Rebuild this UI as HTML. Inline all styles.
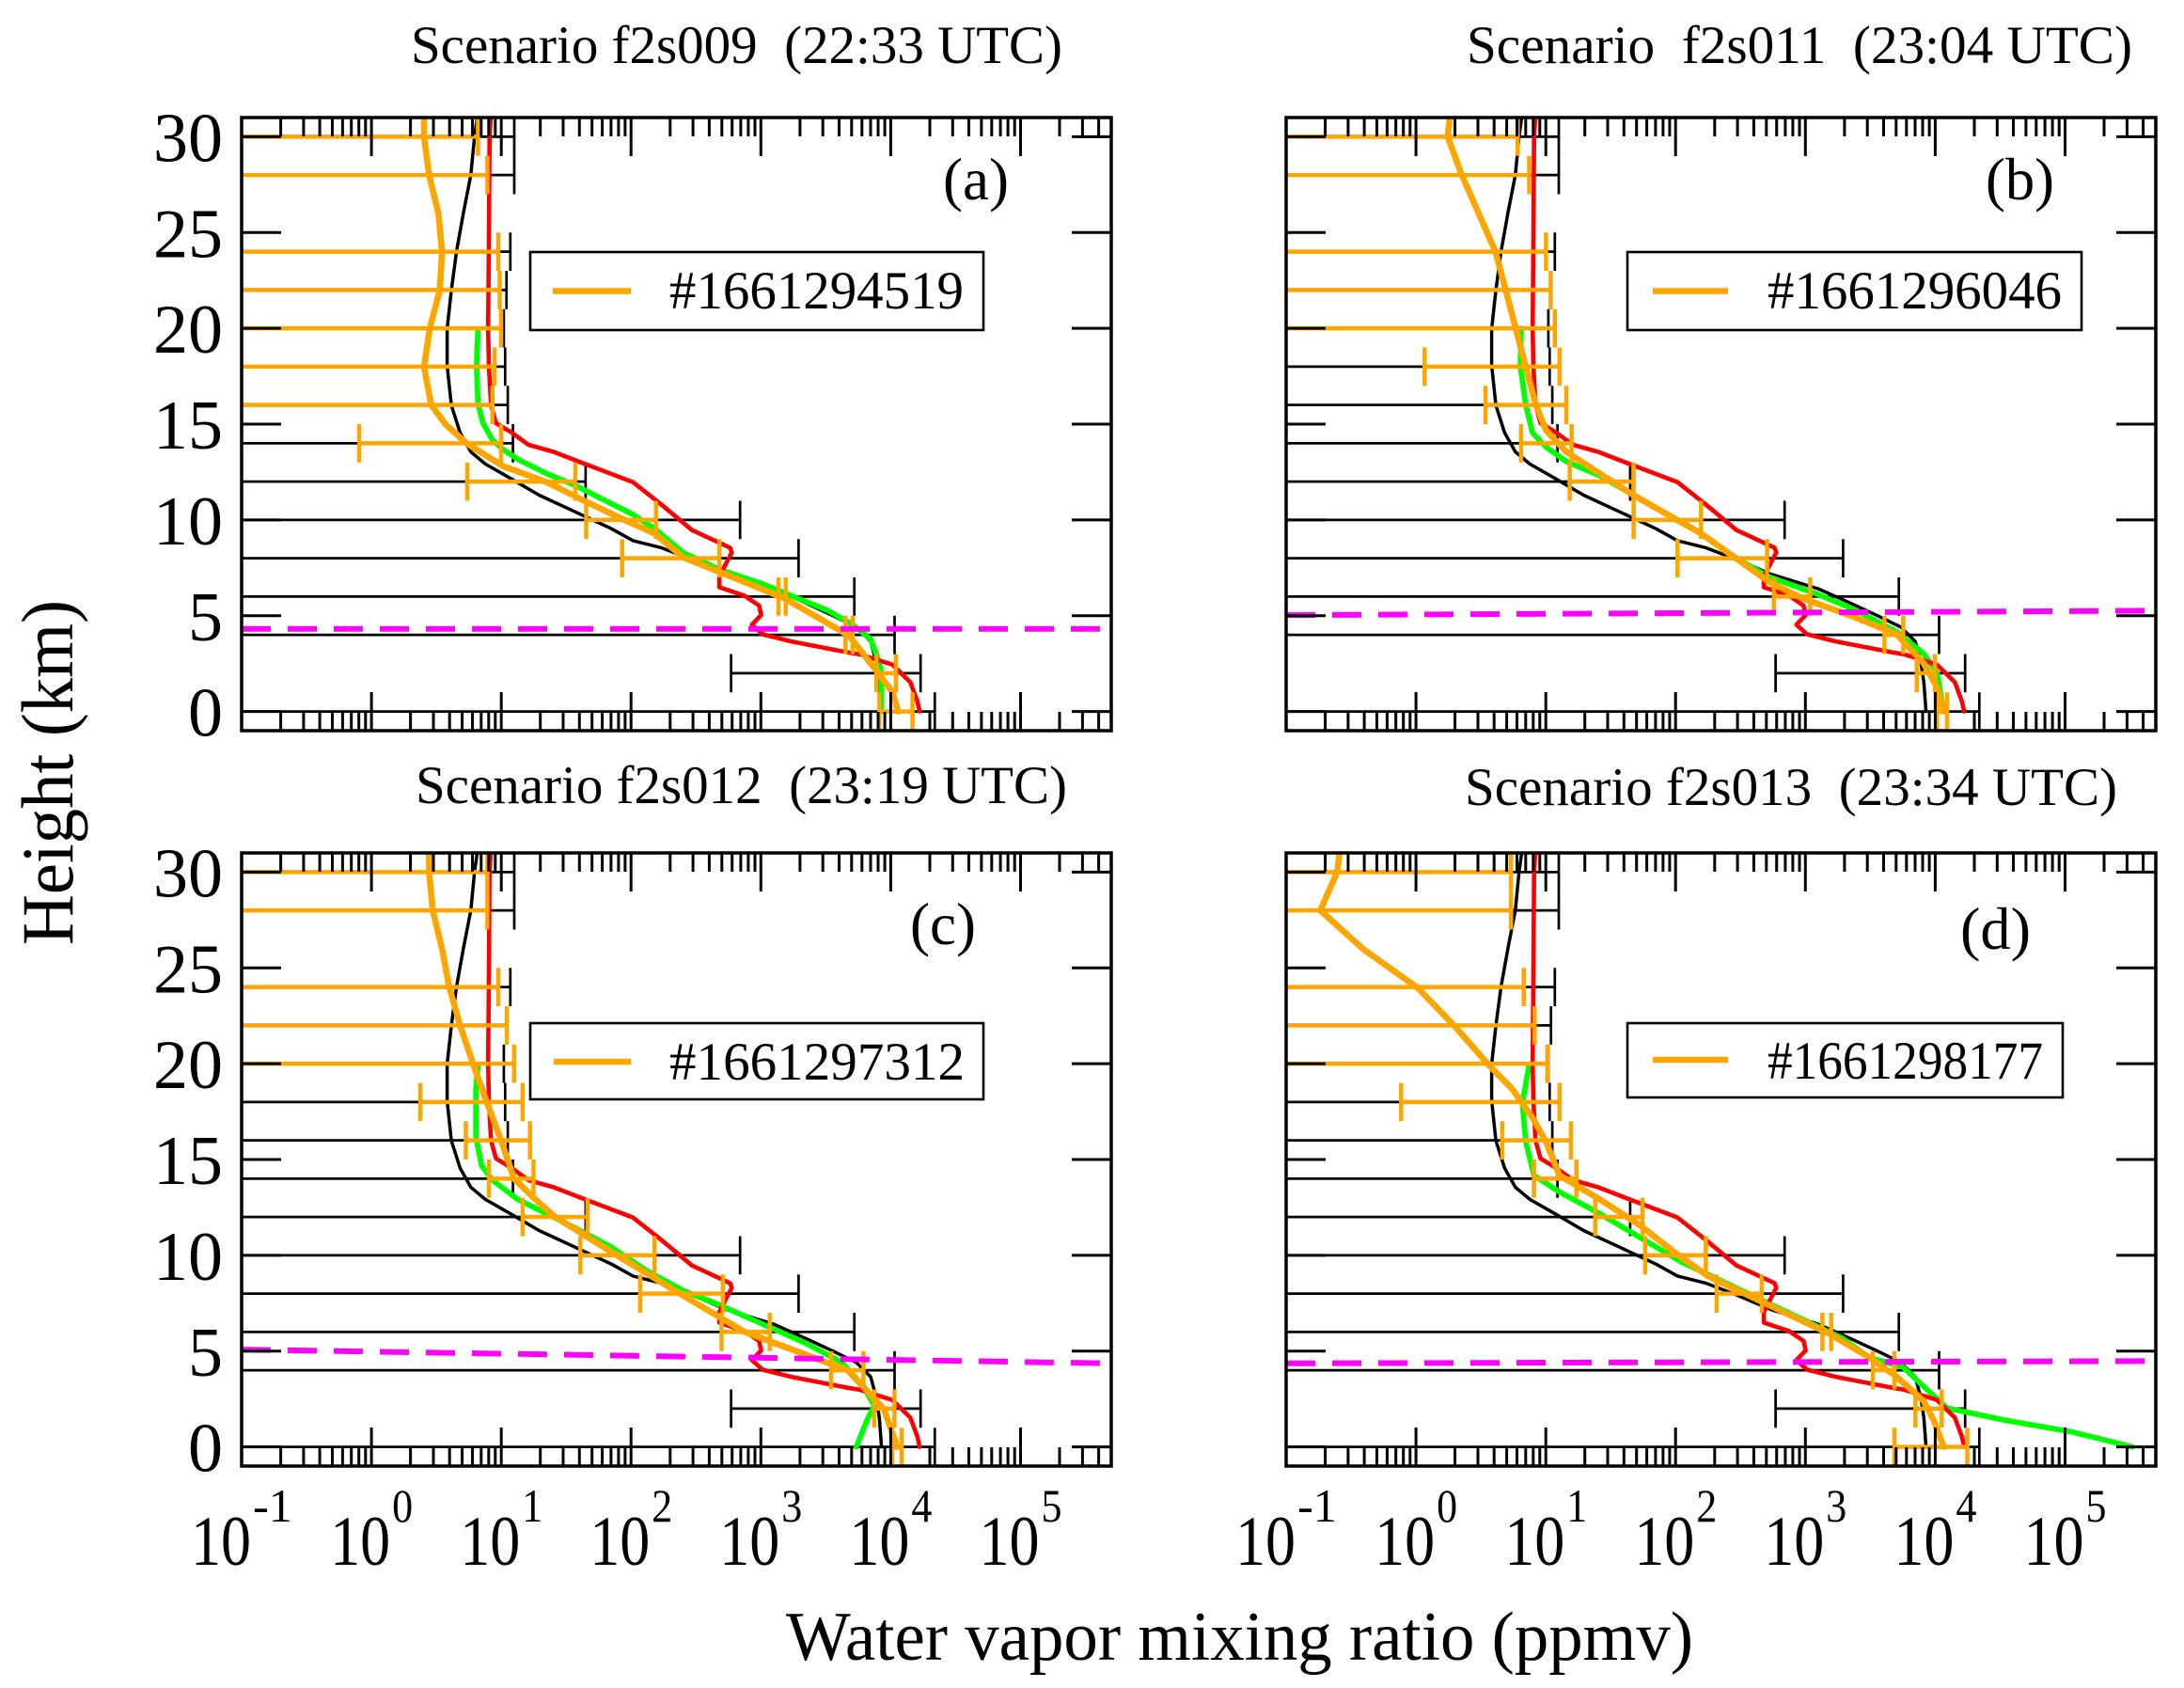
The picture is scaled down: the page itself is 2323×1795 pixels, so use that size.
<!DOCTYPE html>
<html>
<head>
<meta charset="utf-8">
<style>
html,body{margin:0;padding:0;background:#fff;}
svg{display:block;}
text{font-family:"Liberation Serif","Times New Roman",serif;fill:#000;}
</style>
</head>
<body>
<svg id="s" xmlns="http://www.w3.org/2000/svg" width="2323" height="1795" viewBox="0 0 2323 1795">
<rect x="0" y="0" width="2323" height="1795" fill="#fff"/>
<g id="plots"></g>

<!-- Titles -->
<text x="437" y="67" font-size="57" textLength="693" lengthAdjust="spacingAndGlyphs" style="white-space:pre">Scenario f2s009  (22:33 UTC)</text>
<text x="1560" y="67" font-size="57" textLength="708" lengthAdjust="spacingAndGlyphs" style="white-space:pre">Scenario  f2s011  (23:04 UTC)</text>
<text x="442" y="854" font-size="57" textLength="693" lengthAdjust="spacingAndGlyphs" style="white-space:pre">Scenario f2s012  (23:19 UTC)</text>
<text x="1558" y="856" font-size="57" textLength="694" lengthAdjust="spacingAndGlyphs" style="white-space:pre">Scenario f2s013  (23:34 UTC)</text>

<!-- Panel letters -->
<text x="1003" y="212" font-size="63" textLength="70" lengthAdjust="spacingAndGlyphs">(a)</text>
<text x="2112" y="212" font-size="63" textLength="73" lengthAdjust="spacingAndGlyphs">(b)</text>
<text x="968" y="1004" font-size="63" textLength="70" lengthAdjust="spacingAndGlyphs">(c)</text>
<text x="2085" y="1009" font-size="63" textLength="75" lengthAdjust="spacingAndGlyphs">(d)</text>

<!-- Legends -->
<rect x="564" y="268" width="482" height="83" fill="#fff" stroke="#000" stroke-width="2.6"/>
<line x1="588" y1="309.5" x2="671" y2="309.5" stroke="#ffa500" stroke-width="6.5"/>
<text x="712" y="328" font-size="57" textLength="313" lengthAdjust="spacingAndGlyphs">#1661294519</text>

<rect x="1731" y="268" width="483" height="83" fill="#fff" stroke="#000" stroke-width="2.6"/>
<line x1="1758" y1="309.5" x2="1838" y2="309.5" stroke="#ffa500" stroke-width="6.5"/>
<text x="1880" y="328" font-size="57" textLength="313" lengthAdjust="spacingAndGlyphs">#1661296046</text>

<rect x="564" y="1088" width="482" height="81" fill="#fff" stroke="#000" stroke-width="2.6"/>
<line x1="589" y1="1129" x2="671" y2="1129" stroke="#ffa500" stroke-width="6.5"/>
<text x="712" y="1148" font-size="57" textLength="314" lengthAdjust="spacingAndGlyphs">#1661297312</text>

<rect x="1731" y="1088" width="463" height="79" fill="#fff" stroke="#000" stroke-width="2.6"/>
<line x1="1758" y1="1127" x2="1838" y2="1127" stroke="#ffa500" stroke-width="6.5"/>
<text x="1880" y="1147" font-size="57" textLength="293" lengthAdjust="spacingAndGlyphs">#1661298177</text>

<!-- Y tick labels panel a -->
<g font-size="74" text-anchor="end">
<text x="237" y="171.4">30</text>
<text x="237" y="273.3">25</text>
<text x="237" y="375.1">20</text>
<text x="237" y="477">15</text>
<text x="237" y="578.9">10</text>
<text x="237" y="680.8">5</text>
<text x="237" y="782.6">0</text>
<!-- panel c -->
<text x="237" y="953.4">30</text>
<text x="237" y="1055.3">25</text>
<text x="237" y="1157.1">20</text>
<text x="237" y="1259">15</text>
<text x="237" y="1360.9">10</text>
<text x="237" y="1462.8">5</text>
<text x="237" y="1564.6">0</text>
</g>

<!-- X tick labels panel c -->
<g font-size="75">
<text x="203" y="1664" textLength="64" lengthAdjust="spacingAndGlyphs">10</text>
<text x="351.1" y="1664" textLength="64" lengthAdjust="spacingAndGlyphs">10</text>
<text x="489.2" y="1664" textLength="64" lengthAdjust="spacingAndGlyphs">10</text>
<text x="627.2" y="1664" textLength="64" lengthAdjust="spacingAndGlyphs">10</text>
<text x="765.3" y="1664" textLength="64" lengthAdjust="spacingAndGlyphs">10</text>
<text x="903.4" y="1664" textLength="64" lengthAdjust="spacingAndGlyphs">10</text>
<text x="1041.5" y="1664" textLength="64" lengthAdjust="spacingAndGlyphs">10</text>
<!-- panel d -->
<text x="1314" y="1664" textLength="64" lengthAdjust="spacingAndGlyphs">10</text>
<text x="1462.1" y="1664" textLength="64" lengthAdjust="spacingAndGlyphs">10</text>
<text x="1600.2" y="1664" textLength="64" lengthAdjust="spacingAndGlyphs">10</text>
<text x="1738.2" y="1664" textLength="64" lengthAdjust="spacingAndGlyphs">10</text>
<text x="1876.3" y="1664" textLength="64" lengthAdjust="spacingAndGlyphs">10</text>
<text x="2014.4" y="1664" textLength="64" lengthAdjust="spacingAndGlyphs">10</text>
<text x="2152.5" y="1664" textLength="64" lengthAdjust="spacingAndGlyphs">10</text>
</g>
<g font-size="50">
<text x="269" y="1618" textLength="42" lengthAdjust="spacingAndGlyphs">-1</text>
<text x="417.1" y="1618" textLength="22" lengthAdjust="spacingAndGlyphs">0</text>
<text x="555.2" y="1618" textLength="22" lengthAdjust="spacingAndGlyphs">1</text>
<text x="693.2" y="1618" textLength="22" lengthAdjust="spacingAndGlyphs">2</text>
<text x="831.3" y="1618" textLength="22" lengthAdjust="spacingAndGlyphs">3</text>
<text x="969.4" y="1618" textLength="22" lengthAdjust="spacingAndGlyphs">4</text>
<text x="1107.5" y="1618" textLength="22" lengthAdjust="spacingAndGlyphs">5</text>
<text x="1380" y="1618" textLength="42" lengthAdjust="spacingAndGlyphs">-1</text>
<text x="1528.1" y="1618" textLength="22" lengthAdjust="spacingAndGlyphs">0</text>
<text x="1666.2" y="1618" textLength="22" lengthAdjust="spacingAndGlyphs">1</text>
<text x="1804.2" y="1618" textLength="22" lengthAdjust="spacingAndGlyphs">2</text>
<text x="1942.3" y="1618" textLength="22" lengthAdjust="spacingAndGlyphs">3</text>
<text x="2080.4" y="1618" textLength="22" lengthAdjust="spacingAndGlyphs">4</text>
<text x="2218.5" y="1618" textLength="22" lengthAdjust="spacingAndGlyphs">5</text>
</g>

<!-- Axis labels -->
<text x="836" y="1765" font-size="74" textLength="965" lengthAdjust="spacingAndGlyphs">Water vapor mixing ratio (ppmv)</text>
<text transform="translate(77,821.5) rotate(-90)" text-anchor="middle" font-size="78" textLength="367" lengthAdjust="spacingAndGlyphs">Height (km)</text>
</svg>

<script>
(function(){
var NS='http://www.w3.org/2000/svg';
var W=925,H=652,DX=925/6.699,DY=652/32;
function el(tag,attrs,parent){var e=document.createElementNS(NS,tag);for(var k in attrs)e.setAttribute(k,attrs[k]);parent.appendChild(e);return e;}
var root=document.getElementById('plots');

var black=[[.821,31.3],[.794,30],[.766,28],[.710,26.07],[.655,23.99],[.616,21.99],[.583,19.98],[.583,18.06],[.616,15.98],[.683,14.55],[.766,13.55],[.877,12.92],[1.071,12.17],[1.293,11.29],[1.570,10.42],[1.848,9.54],[2.014,8.92],[2.236,8.54],[2.458,7.96],[2.736,7.16],[3.097,6.41],[3.346,5.66],[3.568,4.96],[3.735,4.41],[3.846,3.66],[3.890,2.53],[3.912,1.53],[3.929,0]];
var red=[[.921,31.3],[.910,30],[.905,24.57],[.899,19.98],[.905,18.06],[.921,15.98],[.960,15.05],[1.082,14.55],[1.210,13.92],[1.404,13.55],[1.615,13.0],[2.014,11.97],[2.236,10.79],[2.469,9.47],[2.764,8.54],[2.775,8.29],[2.736,7.79],[2.680,7.04],[2.680,6.49],[2.875,6.04],[2.986,5.53],[3.002,5.03],[2.930,4.53],[3.013,4.03],[3.235,3.66],[3.652,3.11],[3.763,2.98],[4.012,2.45],[4.151,1.53],[4.206,0.53],[4.223,0]];
var berr=[[30,null,1.10],[28,null,1.10],[24,null,1.07],[22,null,1.04],[20,null,1.02],[18,null,1.03],[16,null,1.05],[14,null,1.09],[12,null,1.65],[10,null,2.84],[8,null,3.29],[6,null,3.72],[4,null,4.03],[2,2.77,4.23],[0,null,4.34]];

var panels=[
{id:'a',x0:257,y0:125,
 orange:[[.405,31.3],[.405,30],[.444,28],[.516,26],[.544,24],[.527,22],[.450,20],[.405,18],[.461,16],[.572,14.98],[.738,13.97],[1.016,12.8],[1.349,11.97],[1.626,11.04],[1.959,9.97],[2.181,9.29],[2.403,8.04],[2.680,7.29],[3.180,5.91],[3.679,3.96],[3.901,2.03],[4.012,1.03],[4.057,0]],
 oerr:[[30,null,.821],[28,null,.893],[24,null,.977],[22,null,.988],[20,null,.999],[18,null,.949],[16,null,.932],[14,-.094,.999],[12,.738,1.570],[10,1.654,2.192],[8,1.931,2.680],[6,3.135,3.191],[4,3.652,3.707],[2,3.890,4.040],[0,3.912,4.168]],
 green:[[.821,19.98],[.810,18.06],[.821,16.05],[.860,15.05],[.932,14.17],[1.016,13.67],[1.127,13.17],[1.349,12.42],[1.570,11.8],[1.792,11.04],[2.014,10.29],[2.181,9.54],[2.403,8.29],[2.680,7.41],[3.013,6.66],[3.235,6.04],[3.513,5.28],[3.707,4.53],[3.846,3.78],[3.901,2.78],[3.929,2.03],[3.929,0]],
 mag:[4.31,4.31]},
{id:'b',x0:1368,y0:125,
 orange:[[.265,31.3],[.244,30],[.353,28],[.483,26],[.613,24],[.691,22],[.768,20],[.846,18],[.924,16],[1.002,14.68],[1.158,13.55],[1.417,12.42],[1.677,11.29],[1.937,10.29],[2.196,9.29],[2.456,8.04],[2.715,6.79],[2.975,5.91],[3.339,5.03],[3.702,4.03],[3.910,2.53],[4.013,1.28],[4.065,0]],
 oerr:[[30,null,.784],[28,null,.872],[24,null,1.002],[22,null,1.038],[20,null,1.070],[18,.067,1.106],[16,.535,1.158],[14,.810,1.199],[12,1.184,1.677],[10,1.677,2.196],[8,2.015,2.705],[6,2.757,3.037],[4,3.609,3.754],[2,3.858,3.998],[0,4.013,4.091]],
 green:[[.810,20],[.805,18],[.846,16],[.898,14.55],[1.002,13.8],[1.158,13.05],[1.417,12.3],[1.677,11.29],[1.937,10.29],[2.196,9.29],[2.456,8.04],[2.715,7.04],[3.079,6.16],[3.390,5.28],[3.702,4.16],[3.910,3.03],[4.013,2.03],[4.065,0]],
 mag:[5.03,5.26]},
{id:'c',x0:257,y0:907,
 orange:[[.444,31.3],[.444,30],[.472,28],[.544,26],[.599,24],[.683,22],[.782,20],[.888,18],[.999,16],[1.099,14],[1.25,13],[1.415,12],[1.892,10],[2.375,8],[2.875,6],[3.668,4],[3.946,2],[4.051,0]],
 oerr:[[30,null,.893],[28,null,.893],[24,null,.977],[22,null,1.043],[20,null,1.099],[18,.377,1.165],[16,.727,1.221],[14,.905,1.249],[12,1.165,1.665],[10,1.609,2.181],[8,2.070,2.708],[6,2.697,3.069],[4,3.541,3.790],[2,3.873,4.029],[0,4.012,4.084]],
 green:[[.821,19.93],[.805,18.68],[.805,16.18],[.849,14.68],[.932,13.92],[1.127,12.92],[1.349,12.17],[1.570,11.42],[1.848,10.42],[2.125,9.17],[2.403,8.16],[2.680,7.41],[3.013,6.41],[3.346,5.41],[3.624,4.41],[3.790,3.16],[3.873,2.15],[3.818,1.40],[3.735,0]],
 mag:[5.08,4.36]},
{id:'d',x0:1368,y0:907,
 orange:[[-.582,31.3],[-.607,30],[-.737,28],[-.400,25.95],[.016,23.94],[.301,21.94],[.561,19.93],[.742,18.68],[.898,17.18],[1.002,15.93],[1.106,14.17],[1.417,12.92],[1.729,11.55],[1.989,10.17],[2.248,8.92],[2.560,7.91],[2.871,6.91],[3.183,5.91],[3.494,4.66],[3.702,3.66],[3.910,2.40],[3.988,1.40],[4.065,0]],
 oerr:[[30,null,.732],[28,null,.732],[24,null,.831],[22,null,.914],[20,null,1.012],[18,-.114,1.106],[16,.665,1.194],[14,.909,1.236],[12,1.381,1.745],[10,1.765,2.233],[8,2.316,2.664],[6,3.131,3.198],[4,3.520,3.686],[2,3.847,4.050],[0,3.686,4.247]],
 green:[[.872,19.93],[.820,17.93],[.846,15.93],[.909,14.17],[1.106,13.3],[1.417,12.17],[1.729,10.92],[2.040,9.67],[2.352,8.67],[2.664,7.66],[2.975,6.66],[3.287,5.66],[3.494,4.66],[3.754,4.16],[3.910,3.16],[4.091,2.03],[4.533,1.40],[5.052,0.78],[5.519,0]],
 mag:[4.36,4.48]}
];

var defs=el('defs',{},root);
panels.forEach(function(p){
  var X=function(l){return p.x0+(l+1)*DX;};
  var Y=function(k){return p.y0+(31-k)*DY;};
  var cp=el('clipPath',{id:'cp'+p.id},defs);
  el('rect',{x:p.x0,y:p.y0,width:W,height:H},cp);
  var g=el('g',{'clip-path':'url(#cp'+p.id+')'},root);
  function errbars(list,color,sw){
    list.forEach(function(e){
      var k=e[0],l=e[1],r=e[2];var y=Y(k);
      var xl=(l===null)?p.x0-10:X(l),xr=X(r);
      var d='M'+xl.toFixed(1)+','+y.toFixed(1)+'H'+xr.toFixed(1)+'M'+xr.toFixed(1)+','+(y-20.4).toFixed(1)+'V'+(y+20.4).toFixed(1);
      if(l!==null)d+='M'+xl.toFixed(1)+','+(y-20.4).toFixed(1)+'V'+(y+20.4).toFixed(1);
      el('path',{d:d,stroke:color,'stroke-width':sw,fill:'none'},g);
    });
  }
  function curve(pts,color,sw){
    el('polyline',{points:pts.map(function(q){return X(q[0]).toFixed(1)+','+Y(q[1]).toFixed(1);}).join(' '),fill:'none',stroke:color,'stroke-width':sw,'stroke-linejoin':'round','stroke-linecap':'round'},g);
  }
  errbars(berr,'#000',2.7);
  curve(black,'#000',3.5);
  curve(p.green,'#00ff00',5.8);
  curve(red,'#ff0000',4.6);
  errbars(p.oerr,'#ffa500',4.5);
  curve(p.orange,'#ffa500',6.6);
  el('line',{x1:p.x0,y1:Y(p.mag[0]),x2:p.x0+W,y2:Y(p.mag[1]),stroke:'#ff00ff','stroke-width':6,'stroke-dasharray':'31 18'},g);

  var d='';var yb=p.y0+H,yt=p.y0;
  for(var dec=-1;dec<=5;dec++){
    for(var m=1;m<=9;m++){
      var l=dec+Math.log10(m);
      if(l<=-0.999||l>=5.69)continue;
      var x=X(l).toFixed(1);var len=(m===1)?41:20;
      d+='M'+x+','+yb+'v'+(-len)+'M'+x+','+yt+'v'+len;
    }
  }
  for(var k=0;k<=30;k+=5){var y=Y(k).toFixed(1);d+='M'+p.x0+','+y+'h42M'+(p.x0+W)+','+y+'h-42';}
  el('path',{d:d,stroke:'#000','stroke-width':3,fill:'none'},root);
  el('rect',{x:p.x0,y:p.y0,width:W,height:H,fill:'none',stroke:'#000','stroke-width':3.5},root);
});
})();
</script>
</body>
</html>
